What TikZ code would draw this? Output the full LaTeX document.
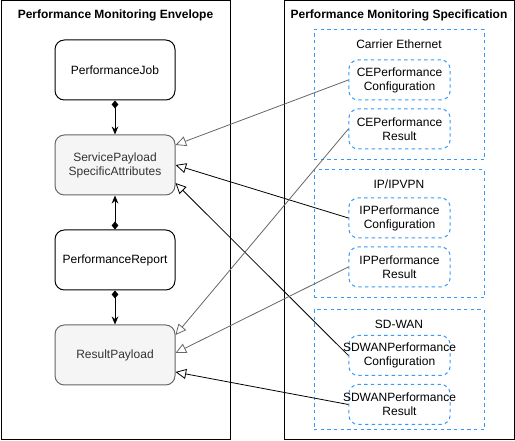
\documentclass[tikz,border=0pt]{standalone}
\usepackage{fontspec}
\setmainfont{Liberation Sans}
\usetikzlibrary{arrows.meta}
\definecolor{specblue}{RGB}{51,153,255}
\definecolor{payloadgray}{RGB}{245,245,245}
\definecolor{edgegray}{RGB}{102,102,102}
\definecolor{textgray}{RGB}{51,51,51}

\begin{document}
\begin{tikzpicture}[x=0.75pt, y=-0.75pt, font=\fontsize{9pt}{10.5pt}\selectfont,
        container/.style={rectangle, draw=black, line width=0.75pt, inner sep=0pt},
        title/.style={font=\fontsize{9pt}{10.5pt}\selectfont\bfseries},
        envbox/.style={rectangle, draw=black, fill=white, line width=0.75pt, rounded corners=7pt,
                       minimum width=90pt, minimum height=45pt, align=center},
        payload/.style={envbox, draw=edgegray, fill=payloadgray, text=textgray},
        group/.style={rectangle, draw=specblue, dash pattern=on 2.5pt off 2.5pt, line width=0.75pt, inner sep=0pt},
        specbox/.style={rectangle, draw=specblue, dash pattern=on 2.5pt off 2.5pt, line width=0.75pt,
                        rounded corners=7pt, minimum width=76pt, minimum height=30pt,
                        inner xsep=0pt, inner ysep=2pt, align=center},
        owns/.style={{Diamond[length=6pt, width=5pt]}-{Stealth[length=6pt, width=5pt]}, line width=0.75pt},
        realizes/.style={-{Triangle[open, length=8pt, width=7.5pt]}, line width=0.6pt},
        softline/.style={realizes, draw=edgegray}
    ]
        \useasboundingbox (0,0) rectangle (515,441);

        % Envelope side
        \node[container, minimum width=171.75pt, minimum height=329.25pt] (envelope) at (115.5,220.5) {};
        \node[title] (envtitle) at (115.5,15) {Performance Monitoring Envelope};
        \node[envbox] (job) at (115,70) {PerformanceJob};
        \node[payload] (svc) at (115,165) {ServicePayload\\SpecificAttributes};
        \node[envbox] (report) at (115,260) {PerformanceReport};
        \node[payload] (result) at (115,355) {ResultPayload};

        % Specification side
        \node[container, minimum width=172.5pt, minimum height=329.25pt] (spec) at (399,220.5) {};
        \node[title] (spectitle) at (399,15) {Performance Monitoring Specification};

        % Carrier Ethernet
        \node[group, minimum width=127.5pt, minimum height=97.5pt] (ce) at (399,95) {};
        \node (cetitle) at (399,44) {Carrier Ethernet};
        \node[specbox] (cecfg) at (399.5,80) {CEPerformance\\Configuration};
        \node[specbox] (ceres) at (399.5,129) {CEPerformance\\Result};

        % IP/IPVPN
        \node[group, minimum width=127.5pt, minimum height=96pt] (ip) at (399,234) {};
        \node (iptitle) at (399,184) {IP/IPVPN};
        \node[specbox] (ipcfg) at (399.5,218) {IPPerformance\\Configuration};
        \node[specbox] (ipres) at (399.5,267) {IPPerformance\\Result};

        % SD-WAN (name is wider than its box)
        \node[group, minimum width=127.5pt, minimum height=90pt] (sdwan) at (399,370) {};
        \node (sdwantitle) at (399,324) {SD-WAN};
        \node[specbox] (sdwancfg) at (399.5,355.5) {\makebox[70pt]{SDWANPerformance}\\Configuration};
        \node[specbox] (sdwanres) at (399.5,404.5) {\makebox[70pt]{SDWANPerformance}\\Result};

        % Envelope composition
        \draw[owns] (job) -- (svc);
        \draw[owns] (report) -- (svc);
        \draw[owns] (report) -- (result);

        % Specifications towards the payloads
        \draw[softline] (cecfg.west) -- ([yshift=15pt]svc.east);
        \draw[realizes] (ipcfg.west) -- (svc.east);
        \draw[realizes] (sdwancfg.west) -- ([yshift=-13.5pt]svc.east);
        \draw[softline] (ceres.west) -- ([yshift=15pt]result.east);
        \draw[softline] (ipres.west) -- ([yshift=1.5pt]result.east);
        \draw[realizes] (sdwanres.west) -- ([yshift=-12.75pt]result.east);

    \end{tikzpicture}
\end{document}
